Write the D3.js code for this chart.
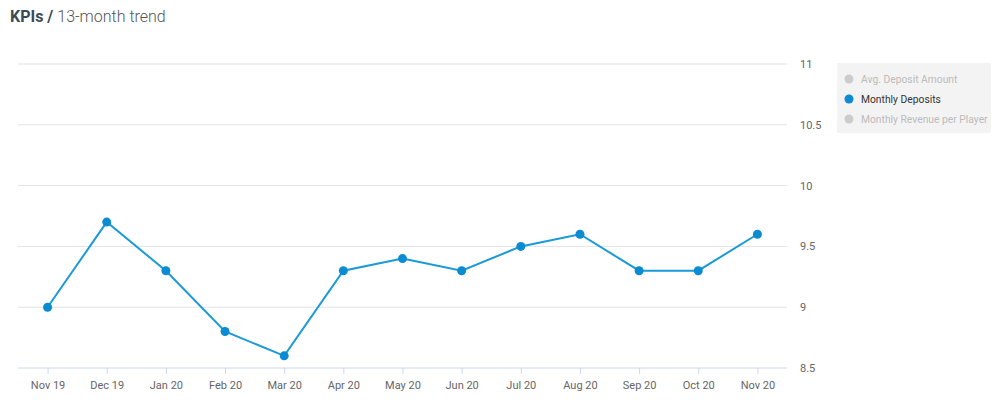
<!DOCTYPE html><html><head><meta charset="utf-8"><script src="https://cdn.jsdelivr.net/npm/d3@7"></script>
<style>body{margin:0;background:#fff;font-family:Roboto,sans-serif}</style></head><body><svg id="c" width="1000" height="419"></svg>
<script>
const months=["Nov 19","Dec 19","Jan 20","Feb 20","Mar 20","Apr 20","May 20","Jun 20","Jul 20","Aug 20","Sep 20","Oct 20","Nov 20"];
const deposits=[9.0,9.7,9.3,8.8,8.6,9.3,9.4,9.3,9.5,9.6,9.3,9.3,9.6];
const yTicks=[8.5,9,9.5,10,10.5,11];
const legendItems=["Avg. Deposit Amount","Monthly Deposits","Monthly Revenue per Player"];
const svg=d3.select("#c");
const x=d3.scalePoint().domain(months).range([18,787]).padding(0.5);
const y=d3.scaleLinear().domain([8.5,11]).range([368,64]);
const t=svg.append("text").attr("x",10).attr("y",22).attr("font-size",16).attr("fill","#555");
t.append("tspan").attr("font-weight","bold").attr("fill","#3d4a55").text("KPIs / ");
t.append("tspan").attr("font-weight",300).text("13-month trend");
svg.append("g").selectAll("line").data(yTicks.slice(1)).join("line")
 .attr("x1",18).attr("x2",787).attr("y1",d=>y(d)).attr("y2",d=>y(d)).attr("stroke","#e3e3e3");
svg.append("g").selectAll("text").data(yTicks).join("text")
 .attr("x",800).attr("y",d=>y(d)+4).attr("font-size",11).attr("fill","#666").text(d=>d);
const xa=svg.append("g").attr("transform","translate(0,368)").call(d3.axisBottom(x).tickSize(6).tickSizeOuter(0));
xa.select(".domain").attr("stroke","#ccd6eb").attr("d","M18,0H787");
xa.selectAll(".tick line").attr("stroke","#ccd6eb");
xa.selectAll("text").attr("font-size",11).attr("fill","#666").attr("dy","1.1em").attr("font-family","Roboto");
svg.append("path").datum(deposits).attr("fill","none").attr("stroke","#1a9ad6").attr("stroke-width",2)
 .attr("d",d3.line().x((d,i)=>x(months[i])).y(d=>y(d)));
svg.append("g").selectAll("circle").data(deposits).join("circle")
 .attr("cx",(d,i)=>x(months[i])).attr("cy",d=>y(d)).attr("r",4.5).attr("fill","#0a8bd2");
const lg=svg.append("g");
lg.append("rect").attr("x",837).attr("y",63).attr("width",154).attr("height",70).attr("fill","#f3f3f3");
legendItems.forEach((n,i)=>{const on=i===1;
 lg.append("circle").attr("cx",849).attr("cy",79+i*20).attr("r",4.5).attr("fill",on?"#0a8bd2":"#ccc");
 lg.append("text").attr("x",861).attr("y",83+i*20).attr("font-size",10.3).attr("fill",on?"#333":"#bbb").text(n);});
</script></body></html>
